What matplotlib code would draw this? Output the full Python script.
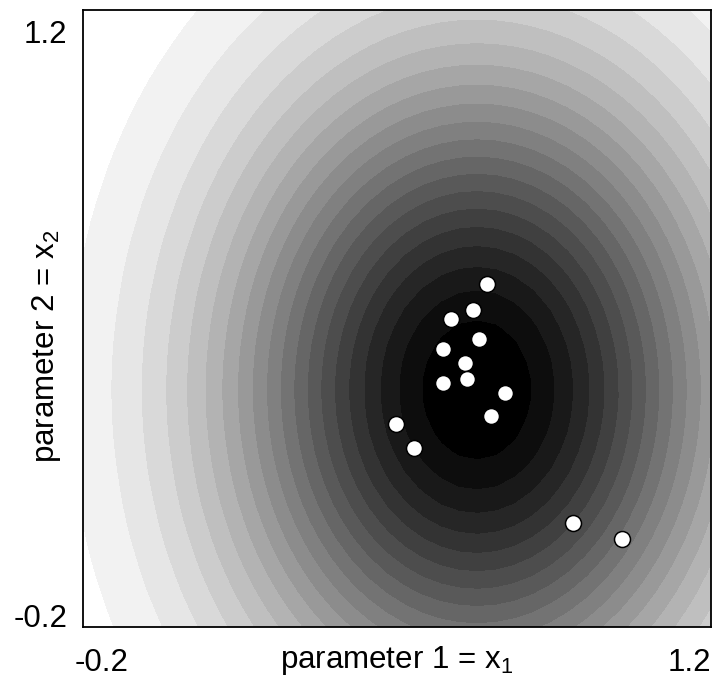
import numpy as np
import matplotlib
matplotlib.use("Agg")
import matplotlib.pyplot as plt
from matplotlib.transforms import ScaledTranslation

plt.rcParams['font.family'] = ['Liberation Sans', 'DejaVu Sans']
plt.rcParams['mathtext.default'] = 'regular'

# sampled parameter vectors
x1 = [0.700, 0.669, 0.621, 0.683, 0.603, 0.652, 0.603, 0.656, 0.740, 0.710,
      0.498, 0.538, 0.892, 1.002]
x2 = [0.579, 0.520, 0.498, 0.453, 0.431, 0.399, 0.354, 0.363, 0.332, 0.278,
      0.261, 0.206, 0.035, -0.001]

# search distribution (Gaussian) parameters
mean = [0.678, 0.338]
std = [0.388, 0.505]
corr = 0.0

axis_range = [-0.2, 1.2]
tick_labels = ['-0.2', '1.2']
n_levels = 21
FS = 22.5

fig = plt.figure(figsize=(7.14, 6.79), dpi=100)
ax = fig.add_axes([83 / 714, 1 - 627 / 679, 628 / 714, 617 / 679])

g = np.linspace(axis_range[0], axis_range[1], 36)
X, Y = np.meshgrid(g, g)
dx = (X - mean[0]) / std[0]
dy = (Y - mean[1]) / std[1]
Q = (dx ** 2 - 2 * corr * dx * dy + dy ** 2) / (1 - corr ** 2)
Z = np.exp(-0.5 * Q)

levels = np.linspace(Z.min(), Z.max(), n_levels + 1)
shades = [(1 - i / (n_levels - 1),) * 3 for i in range(n_levels)]
ax.contourf(X, Y, Z, levels=levels, colors=shades, antialiased=False)

ax.plot(x1, x2, 'o', ms=11.5, mfc='white', mec='black', mew=1.1, zorder=3)

ax.set_xlim(axis_range)
ax.set_ylim(axis_range)
ax.set_xticks(axis_range)
ax.set_yticks(axis_range)
ax.set_xticklabels(tick_labels, fontsize=FS)
ax.set_yticklabels(tick_labels, fontsize=FS)
ax.tick_params(axis='x', length=0, pad=15)
ax.tick_params(axis='y', length=0, pad=11)

xl = ax.get_xticklabels()
xl[0].set_ha('left')
xl[0].set_transform(xl[0].get_transform() + ScaledTranslation(-0.08, 0, fig.dpi_scale_trans))
xl[1].set_ha('right')
yl = ax.get_yticklabels()
yl[0].set_va('baseline')
yl[1].set_va('top')
yl[1].set_transform(yl[1].get_transform() + ScaledTranslation(0, -0.10, fig.dpi_scale_trans))

for s in ax.spines.values():
    s.set_linewidth(1.3)

ax.set_xlabel('parameter 1 = x$_1$', fontsize=FS)
ax.set_ylabel('parameter 2 = x$_2$', fontsize=FS)
ax.xaxis.set_label_coords(0.5, -0.028)
ax.yaxis.set_label_coords(-0.032, 0.454)

fig.savefig('out.png', dpi=100)
